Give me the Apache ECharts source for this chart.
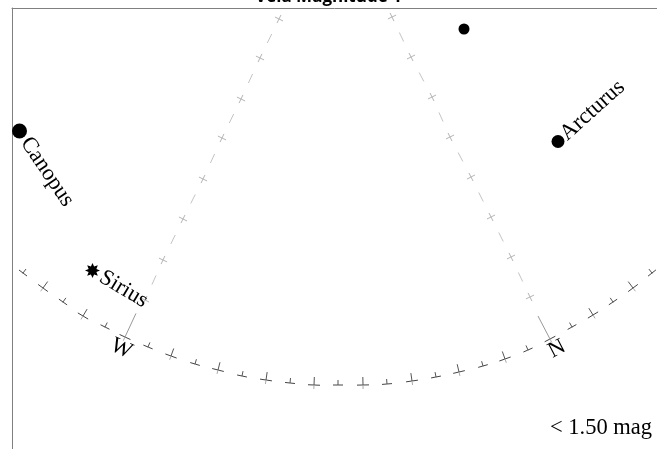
<!DOCTYPE html>
<html><head><meta charset="utf-8">
<script src="https://cdn.jsdelivr.net/npm/echarts@6/dist/echarts.min.js"></script>
<style>html,body{margin:0;padding:0;background:#fff}#c{width:657px;height:449px}</style>
</head><body><div id="c"></div>
<script>
const titleText = 'Vela Magnitude 1';
const noteText = '< 1.50 mag';

// Horizon: azimuth ticks every 5 degrees, positions on the chart plane
const horizonAz = [245,250,255,260,265,270,275,280,285,290,295,300,305,310,315,320,325,330,335,340,345,350,355,360,365,370,375,380,385];
const horizonX  = [23,43,63,83,105,125,148,171,195,218,242,266,290,314,338,363,387,412,436,459,483,505,528,550,572,593,613,633,652];
const horizonY  = [273,288,302,316,327,337,347,356,364,370,376,380,383,385,385,385,384,381,377,372,366,359,350,339,327,315,302,288,273];
const cardinalNames = {270: 'W', 360: 'N'};

// Vertical circles through W and N (horizon point, then altitude crosses)
const westLineX  = [125,145,163,183,203,222,241,260,279];
const westLineY  = [337,300,260,219,179,138,99,58,19];
const northLineX = [550,530,511,491,471,450,432,411,392];
const northLineY = [339,297,257,217,177,137,97,57,17];

// Stars
const starNames = ['Canopus','Sirius','Arcturus',''];
const starX = [19.5,92.5,558,464];
const starY = [131,270.5,141.5,29];

// ---- styles ----
const serif = '"Liberation Serif","Times New Roman",serif';
const labelSize = 22.5;
const starStyle = {
  Canopus:  {size: 15, symbol: 'circle', rot: -56, gap: 10},
  Sirius:   {size: 15, symbol: 'star8',  rot: -31, gap: 10},
  Arcturus: {size: 13, symbol: 'circle', rot: 42,  gap: 7},
  '':       {size: 11, symbol: 'circle', rot: 0,   gap: 0}
};
function starPath(n, r1, r2) {
  let d = '';
  for (let k = 0; k < 2 * n; k++) {
    const r = k % 2 ? r2 : r1;
    const a = Math.PI * k / n - Math.PI / 2;
    d += (k ? 'L' : 'M') + (50 + r * Math.cos(a)).toFixed(2) + ' ' + (50 + r * Math.sin(a)).toFixed(2);
  }
  return 'path://' + d + 'Z';
}
const star8 = starPath(8, 50, 28);

function seg(x1, y1, x2, y2, stroke, w) {
  return {type: 'line', shape: {x1, y1, x2, y2}, style: {stroke, lineWidth: w || 1}, silent: true};
}

function renderHorizon(params, api) {
  const i = params.dataIndex, n = horizonAz.length;
  const p = api.coord([api.value(0), api.value(1)]);
  const a = api.coord([horizonX[Math.max(i - 1, 0)], horizonY[Math.max(i - 1, 0)]]);
  const b = api.coord([horizonX[Math.min(i + 1, n - 1)], horizonY[Math.min(i + 1, n - 1)]]);
  let tx = b[0] - a[0], ty = b[1] - a[1];
  const L = Math.hypot(tx, ty); tx /= L; ty /= L;
  const nx = ty, ny = -tx; // inward (upward) normal
  const az = horizonAz[i];
  const big = az % 10 === 0, card = cardinalNames[az] !== undefined;
  const half = big ? 6 : 5;
  const inward = card ? 26 : (big ? 8 : 5);
  const outward = big ? 4 : 1;
  const ch = [
    seg(p[0] - tx * half, p[1] - ty * half, p[0] + tx * half, p[1] + ty * half, '#444'),
    seg(p[0], p[1], p[0] + nx * inward, p[1] + ny * inward, card ? '#999' : '#555'),
    seg(p[0], p[1], p[0] - nx * outward, p[1] - ny * outward, '#aaa')
  ];
  if (card) {
    ch.push({
      type: 'text', x: p[0] - nx * 12 + tx * 1.5, y: p[1] - ny * 12 + ty * 1.5, rotation: -Math.atan2(ty, tx), silent: true,
      style: {text: cardinalNames[az], font: labelSize + 'px ' + serif, fill: '#000', align: 'center', verticalAlign: 'middle'}
    });
  }
  return {type: 'group', children: ch};
}

function makeLineRenderer(xs, ys) {
  return function (params, api) {
    const k = params.dataIndex, n = xs.length;
    if (k === 0) return {type: 'group', children: []};
    const p = api.coord([xs[k], ys[k]]);
    const a = api.coord([xs[k - 1], ys[k - 1]]);
    const b = api.coord([xs[Math.min(k + 1, n - 1)], ys[Math.min(k + 1, n - 1)]]);
    let dx = (k < n - 1 ? b[0] : p[0]) - a[0], dy = (k < n - 1 ? b[1] : p[1]) - a[1];
    const L = Math.hypot(dx, dy); dx /= L; dy /= L;
    const h = 4.5;
    const ch = [
      seg(p[0] - dx * h, p[1] - dy * h, p[0] + dx * h, p[1] + dy * h, '#b5b5b5'),
      seg(p[0] - dy * h, p[1] + dx * h, p[0] + dy * h, p[1] - dx * h, '#b5b5b5')
    ];
    if (k < n - 1) {
      let ex = b[0] - p[0], ey = b[1] - p[1];
      const El = Math.hypot(ex, ey); ex /= El; ey /= El;
      const mx = (p[0] + b[0]) / 2, my = (p[1] + b[1]) / 2;
      ch.push(seg(mx - ex * 5, my - ey * 5, mx + ex * 5, my + ey * 5, '#c4c4c4'));
    }
    return {type: 'group', children: ch};
  };
}

const starData = starNames.map((name, i) => {
  const s = starStyle[name];
  const th = s.rot * Math.PI / 180;
  return {
    name: name,
    value: [starX[i], starY[i]],
    symbol: s.symbol === 'star8' ? star8 : 'circle',
    symbolSize: s.size,
    label: {
      show: name !== '',
      position: [s.size / 2 + s.gap * Math.cos(th), s.size / 2 - s.gap * Math.sin(th)],
      rotate: s.rot,
      align: 'left', verticalAlign: 'middle'
    }
  };
});

const chart = echarts.init(document.getElementById('c'), null, {renderer: 'canvas'});
chart.setOption({
  animation: false,
  backgroundColor: '#fff',
  title: {
    text: titleText, left: 'center', top: -11, padding: 0,
    textStyle: {fontSize: 17, fontWeight: 'bold', fontFamily: '"Open Sans", "Liberation Sans", sans-serif', color: '#000'}
  },
  grid: {left: 12, top: 8, right: 0, bottom: 0, containLabel: false},
  xAxis: {
    type: 'value', min: 12, max: 657, position: 'top',
    axisLine: {show: true, onZero: false, lineStyle: {color: '#808080', width: 1}},
    axisTick: {show: false}, axisLabel: {show: false}, splitLine: {show: false}
  },
  yAxis: {
    type: 'value', min: 8, max: 449, inverse: true,
    axisLine: {show: true, onZero: false, lineStyle: {color: '#808080', width: 1}},
    axisTick: {show: false}, axisLabel: {show: false}, splitLine: {show: false}
  },
  graphic: [{
    type: 'text', x: 652, y: 428, silent: true,
    style: {text: noteText, font: labelSize + 'px ' + serif, fill: '#000', align: 'right', verticalAlign: 'middle'}
  }],
  series: [
    {type: 'custom', renderItem: makeLineRenderer(westLineX, westLineY), data: westLineX.map((x, i) => [x, westLineY[i]]), silent: true},
    {type: 'custom', renderItem: makeLineRenderer(northLineX, northLineY), data: northLineX.map((x, i) => [x, northLineY[i]]), silent: true},
    {type: 'custom', renderItem: renderHorizon, data: horizonAz.map((az, i) => [horizonX[i], horizonY[i], az]), silent: true},
    {
      type: 'scatter', data: starData, silent: true,
      itemStyle: {color: '#000', opacity: 1},
      label: {formatter: '{b}', color: '#000', fontSize: labelSize, fontFamily: serif}
    }
  ]
});
</script>
</body></html>
